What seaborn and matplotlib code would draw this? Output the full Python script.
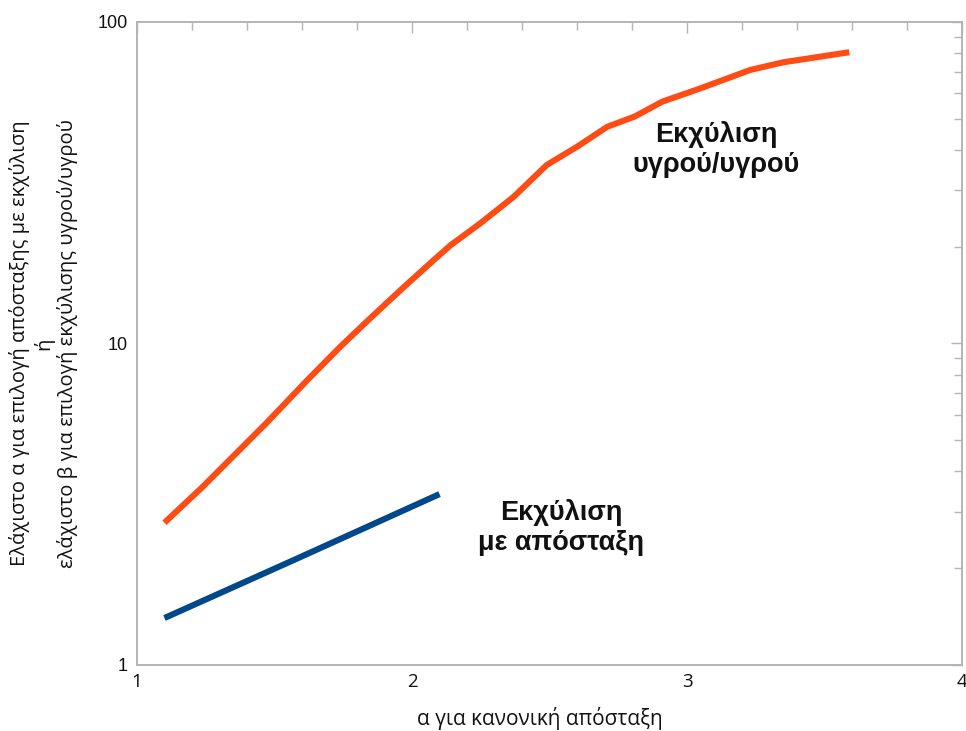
import matplotlib
matplotlib.use("Agg")
import matplotlib.pyplot as plt
import matplotlib.ticker as mticker
import numpy as np
import pandas as pd
import seaborn as sns

sns.set_theme(style="white")
plt.rcParams["font.family"] = ["Open Sans", "DejaVu Sans"]

# liquid/liquid extraction curve
lle_alpha = [1.10, 1.24, 1.47, 1.62, 1.74, 1.84, 1.96, 2.08, 2.14, 2.25,
             2.37, 2.49, 2.60, 2.71, 2.81, 2.91, 3.05, 3.23, 3.35, 3.59]
lle_min = [2.77, 3.59, 5.65, 7.70, 9.78, 11.8, 14.7, 18.2, 20.2, 23.7,
           28.6, 35.9, 40.9, 47.2, 50.8, 56.5, 62.2, 70.9, 74.9, 80.5]

# extractive distillation line
ed_alpha = [1.10, 1.57, 2.10]
ed_min = [1.40, 2.12, 3.40]

lle_df = pd.DataFrame({"alpha": lle_alpha, "value": lle_min})
ed_df = pd.DataFrame({"alpha": ed_alpha, "value": ed_min})

ORANGE = "#FF4B14"
BLUE = "#00488A"
GREY = "#B4B4B4"
BOLD_FONT = ["Liberation Sans", "DejaVu Sans"]

fig = plt.figure(figsize=(9.66, 7.31), dpi=100)
ax = fig.add_axes([0.1418, 0.0903, 0.8541, 0.8797])

sns.lineplot(data=lle_df, x="alpha", y="value", color=ORANGE, lw=4.4,
             ax=ax, solid_capstyle="butt")
sns.lineplot(data=ed_df, x="alpha", y="value", color=BLUE, lw=4.4,
             ax=ax, solid_capstyle="butt")

ax.set_yscale("log")
ax.set_xlim(1, 4)
ax.set_ylim(1, 100)

ax.xaxis.set_major_locator(mticker.FixedLocator([1, 2, 3, 4]))
ax.xaxis.set_minor_locator(mticker.MultipleLocator(0.2))
ax.xaxis.set_major_formatter(mticker.FormatStrFormatter("%d"))
ax.yaxis.set_major_locator(mticker.FixedLocator([1, 10, 100]))
ax.yaxis.set_minor_locator(mticker.LogLocator(base=10, subs=np.arange(2, 10)))
ax.yaxis.set_major_formatter(mticker.FormatStrFormatter("%d"))
ax.yaxis.set_minor_formatter(mticker.NullFormatter())

ax.tick_params(which="both", direction="in", top=True, right=True,
               color=GREY, width=1.0)
ax.tick_params(which="major", length=8)
ax.tick_params(which="minor", length=5.5)
ax.tick_params(axis="x", which="major", pad=6, labelsize=13.5, labelcolor="#111111")
ax.tick_params(axis="y", which="major", pad=6.5, labelsize=13, labelcolor="#111111")
for lbl in ax.get_yticklabels():
    lbl.set_family(BOLD_FONT)

for sp in ax.spines.values():
    sp.set_color(GREY)
    sp.set_linewidth(1.4)

ax.set_xlabel("α για κανονική απόσταξη", fontsize=15, color="#111111")
ax.xaxis.set_label_coords(0.488, -0.065)
ax.set_ylabel("Ελάχιστο α για επιλογή απόσταξης με εκχύλιση\nή\n"
              "ελάχιστο β για επιλογή εκχύλισης υγρού/υγρού",
              fontsize=14.5, color="#111111", linespacing=1.2)
ax.yaxis.set_label_coords(-0.0715, 0.5)

ax.text(3.105, 40.0, "Εκχύλιση\nυγρού/υγρού", ha="center", va="center",
        fontsize=19.5, fontweight="bold", family=BOLD_FONT,
        linespacing=1.2, color="#111111")
ax.text(2.542, 2.67, "Εκχύλιση\nμε απόσταξη", ha="center", va="center",
        fontsize=19.5, fontweight="bold", family=BOLD_FONT,
        linespacing=1.2, color="#111111")

fig.savefig("out.png", dpi=100)
